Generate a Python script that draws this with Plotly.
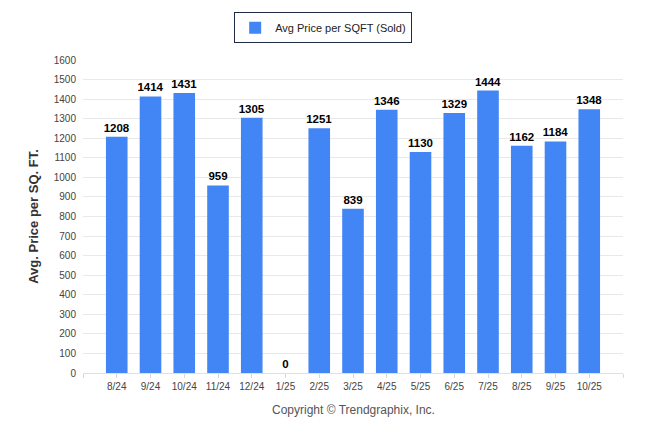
import plotly.graph_objects as go

months = ["8/24", "9/24", "10/24", "11/24", "12/24", "1/25", "2/25", "3/25",
          "4/25", "5/25", "6/25", "7/25", "8/25", "9/25", "10/25"]
price_sqft = [1208, 1414, 1431, 959, 1305, 0, 1251, 839, 1346, 1130, 1329, 1444, 1162, 1184, 1348]
y_ticks = list(range(0, 1700, 100))

# page body has an 8px margin, so the figure is drawn at (8, 8)
W, H = 638, 426
L, R, T, B = 75, 23, 52, 61

idx = list(range(len(months)))
x_tickvals = [-1] + idx + [len(months)]
x_ticktext = [""] + months + [""]

fig = go.Figure()
fig.add_trace(go.Bar(
    x=idx, y=price_sqft, name="Avg Price per SQFT (Sold)",
    marker=dict(color="#4285f4", line=dict(width=0)),
    width=0.64,
    text=[str(v) for v in price_sqft], textposition="outside",
    textfont=dict(family="Liberation Sans", size=11.5, color="#000000", weight="bold"),
    cliponaxis=False,
))

fig.update_layout(
    width=W, height=H,
    margin=dict(l=L, r=R, t=T, b=B, autoexpand=False),
    paper_bgcolor="white", plot_bgcolor="white",
    font=dict(family="Liberation Sans", size=10, color="#333333"),
    showlegend=True,
    uniformtext=dict(minsize=11.5, mode="show"),
    legend=dict(xref="container", yref="container", x=0.494, y=0.99,
                xanchor="center", yanchor="top",
                orientation="h", bgcolor="white", bordercolor="#1f2a44", borderwidth=1,
                font=dict(family="Liberation Sans", size=11, color="#222222"),
                itemwidth=30),
    xaxis=dict(range=[-1, len(months)], tickvals=x_tickvals, ticktext=x_ticktext,
               showgrid=False, zeroline=False,
               showline=True, linecolor="#e0e0e0", linewidth=1,
               ticks="outside", ticklen=4, tickcolor="#d8d8d8",
               tickfont=dict(size=10, color="#444444")),
    yaxis=dict(range=[0, 1600], tickvals=y_ticks, showgrid=True, gridcolor="#e8e8e8",
               zeroline=False, showline=False, ticks="", ticklabelstandoff=6,
               tickfont=dict(size=10, color="#444444"),
               title=dict(text="Avg. Price per SQ. FT.", standoff=12,
                          font=dict(family="Liberation Sans", size=13, color="#333333", weight="bold"))),
    annotations=[dict(text="Copyright © Trendgraphix, Inc.", xref="paper", yref="paper",
                      x=0.5, y=-0.088, xanchor="center", yanchor="top", showarrow=False,
                      font=dict(family="Liberation Sans", size=12, color="#555555"))],
)

fig.write_html("out.html")
